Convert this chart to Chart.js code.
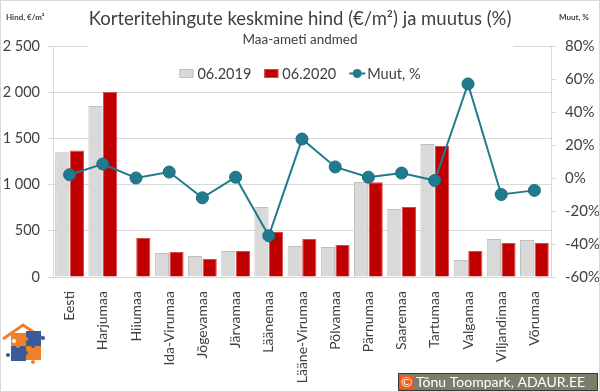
<!DOCTYPE html>
<html><head><meta charset="utf-8">
<script src="https://cdn.jsdelivr.net/npm/chart.js@4/dist/chart.umd.min.js"></script>
<style>
html,body{margin:0;padding:0;background:#fff;}
#wrap{width:600px;height:392px;position:relative;}
canvas{display:block;}
</style></head><body>
<div id="wrap"><canvas id="c" width="600" height="392"></canvas></div>
<script>
const categories = ['Eesti','Harjumaa','Hiiumaa','Ida-Virumaa','Jõgevamaa','Järvamaa','Läänemaa','Lääne-Virumaa','Põlvamaa','Pärnumaa','Saaremaa','Tartumaa','Valgamaa','Viljandimaa','Võrumaa'];
const price2019 = [1350,1850,null,260,227,281,757,335,325,1028,736,1440,184,411,400];
const price2020 = [1370,2005,422,270,195,281,487,411,346,1025,757,1418,281,368,368];
const changePct = [2,8.5,0,3.6,-12,0.5,-35,23.6,6.7,0.5,3,-1.5,57,-10,-7.5];
const leftTicks = [0,500,1000,1500,2000,2500];
const rightTicks = [-60,-40,-20,0,20,40,60,80];

const FONT = 'Lato, "Open Sans", sans-serif';
const TXT = '#404040';
const GRID = '#d9d9d9';
const TEAL = '#217b8f';

const fmtThousands = v => String(v).replace(/\B(?=(\d{3})+(?!\d))/g, ' ');

const decor = {
  id: 'decor',
  beforeDraw(chart) {
    const ctx = chart.ctx;
    ctx.save();
    ctx.fillStyle = '#fff';
    ctx.fillRect(0, 0, chart.width, chart.height);
    ctx.restore();
  },
  beforeDatasetsDraw(chart) {
    const ctx = chart.ctx;
    ctx.save();
    // white title box covering top gridline (like the reference)
    ctx.fillStyle = '#fff';
    ctx.fillRect(88, 0, 425, 50);
    ctx.restore();
  },
  afterDraw(chart) {
    const ctx = chart.ctx;
    ctx.save();
    // Title
    ctx.fillStyle = TXT;
    ctx.textAlign = 'center';
    ctx.textBaseline = 'alphabetic';
    ctx.font = '18.5px ' + FONT;
    ctx.fillText('Korteritehingute keskmine hind (€/m²) ja muutus (%)', 300, 25);
    ctx.font = '13.5px ' + FONT;
    ctx.fillText('Maa-ameti andmed', 300, 44);
    // Axis captions
    ctx.font = 'bold 8px ' + FONT;
    ctx.textAlign = 'left';
    ctx.fillText('Hind, €/m²', 6, 20);
    ctx.fillText('Muut, %', 559, 20);
    // Legend
    const ds = chart.data.datasets;
    ctx.font = '14.5px ' + FONT;
    const items = [
      {type:'box', fill: ds[1].backgroundColor, stroke: ds[1].borderColor, label: ds[1].label},
      {type:'box', fill: ds[2].backgroundColor, stroke: ds[2].borderColor, label: ds[2].label},
      {type:'line', fill: ds[0].borderColor, stroke: ds[0].borderColor, label: ds[0].label}
    ];
    const sym = 16, gapS = 2, gapI = 13;
    let total = 0;
    items.forEach((it,i) => { total += sym + gapS + ctx.measureText(it.label).width + (i < items.length-1 ? gapI : 0); });
    let x = 300 - total/2;
    const ly = 73;
    items.forEach(it => {
      if (it.type === 'box') {
        ctx.fillStyle = it.fill;
        ctx.fillRect(x, ly-4, sym-2, 9);
        ctx.strokeStyle = it.stroke; ctx.lineWidth = 1;
        ctx.strokeRect(x+0.5, ly-3.5, sym-3, 8);
      } else {
        ctx.strokeStyle = it.stroke; ctx.lineWidth = 2;
        ctx.beginPath(); ctx.moveTo(x, ly+0.5); ctx.lineTo(x+sym, ly+0.5); ctx.stroke();
        ctx.fillStyle = it.fill;
        ctx.beginPath(); ctx.arc(x+sym/2, ly+0.5, 4.5, 0, Math.PI*2); ctx.fill();
      }
      x += sym + gapS;
      ctx.fillStyle = TXT;
      ctx.textAlign = 'left';
      ctx.textBaseline = 'middle';
      ctx.fillText(it.label, x, ly+1);
      x += ctx.measureText(it.label).width + gapI;
    });
    // Logo (decorative)
    const O = '#f07f2a', B = '#3a5a9a';
    ctx.strokeStyle = O; ctx.lineWidth = 3;
    ctx.beginPath(); ctx.moveTo(3, 339); ctx.lineTo(23, 325); ctx.lineTo(44, 339); ctx.stroke();
    ctx.fillStyle = O; ctx.fillRect(11, 333, 15, 13);
    ctx.fillStyle = B; ctx.fillRect(26, 331, 15, 15);
    ctx.fillStyle = B; ctx.fillRect(11, 346, 15, 15);
    ctx.fillStyle = O; ctx.fillRect(26, 346, 15, 14);
    const dot = (cx, cy, c) => { ctx.fillStyle = c; ctx.beginPath(); ctx.arc(cx, cy, 2, 0, Math.PI*2); ctx.fill(); };
    dot(26, 339, O); dot(18, 346, O); dot(33, 346, B); dot(26, 353, B); dot(43, 338, B); dot(8, 355, B); dot(33, 362, O); dot(14, 341, '#fff');
    // Copyright box
    ctx.fillStyle = '#3a3a3a'; ctx.fillRect(398, 373, 200, 18);
    ctx.fillStyle = '#7d7d6c'; ctx.fillRect(399, 374, 198, 16);
    ctx.fillStyle = '#f05a1a'; ctx.fillRect(400, 375, 13, 14);
    ctx.fillStyle = '#fff';
    ctx.font = '14px ' + FONT;
    ctx.textAlign = 'center'; ctx.textBaseline = 'middle';
    ctx.fillText('©', 406.5, 382.5);
    ctx.textAlign = 'left';
    ctx.font = '14px ' + FONT;
    ctx.fillText('Tõnu Toompark, ADAUR.EE', 416, 382.5);
    // outer border
    ctx.strokeStyle = GRID; ctx.lineWidth = 1;
    ctx.strokeRect(0.5, 0.5, chart.width-1, chart.height-1);
    ctx.restore();
  }
};

new Chart(document.getElementById('c'), {
  data: {
    labels: categories,
    datasets: [
      { type: 'line', label: 'Muut, %', data: changePct, yAxisID: 'y1', order: 0,
        borderColor: TEAL, backgroundColor: TEAL, borderWidth: 2,
        pointRadius: 6, pointBackgroundColor: TEAL, pointBorderColor: '#1b6a7c', pointBorderWidth: 1, tension: 0, clip: false },
      { type: 'bar', label: '06.2019', data: price2019, yAxisID: 'y', order: 1,
        backgroundColor: '#d9d9d9', borderColor: '#bfbfbf', borderWidth: 1,
        barPercentage: 0.97, categoryPercentage: 0.88 },
      { type: 'bar', label: '06.2020', data: price2020, yAxisID: 'y', order: 2,
        backgroundColor: '#c00000', borderColor: '#d64a4a', borderWidth: 1,
        barPercentage: 0.97, categoryPercentage: 0.88 }
    ]
  },
  options: {
    responsive: false,
    animation: false,
    layout: { padding: { top: 46, left: 0, right: 0, bottom: 0 } },
    plugins: { legend: { display: false }, title: { display: false }, tooltip: { enabled: false } },
    scales: {
      x: {
        grid: { display: false },
        border: { display: true, color: GRID },
        ticks: { color: TXT, font: { family: FONT, size: 14 }, minRotation: 90, maxRotation: 90, autoSkip: false, padding: 6 },
        afterFit: s => { s.height = 115; }
      },
      y: {
        position: 'left', min: 0, max: 2500,
        afterBuildTicks: s => { s.ticks = leftTicks.map(v => ({ value: v })); },
        grid: { color: GRID, tickLength: 5, drawTicks: true },
        border: { display: true, color: GRID },
        ticks: { color: TXT, font: { family: FONT, size: 14.5 }, padding: 8, callback: v => fmtThousands(v) },
        afterFit: s => { s.width = 53; }
      },
      y1: {
        position: 'right', min: -60, max: 80,
        afterBuildTicks: s => { s.ticks = rightTicks.map(v => ({ value: v })); },
        grid: { drawOnChartArea: false, color: GRID, tickLength: 5 },
        border: { display: true, color: GRID },
        ticks: { color: TXT, font: { family: FONT, size: 15 }, padding: 9, callback: v => v + '%' },
        afterFit: s => { s.width = 49; }
      }
    }
  },
  plugins: [decor]
});
</script>
</body></html>
